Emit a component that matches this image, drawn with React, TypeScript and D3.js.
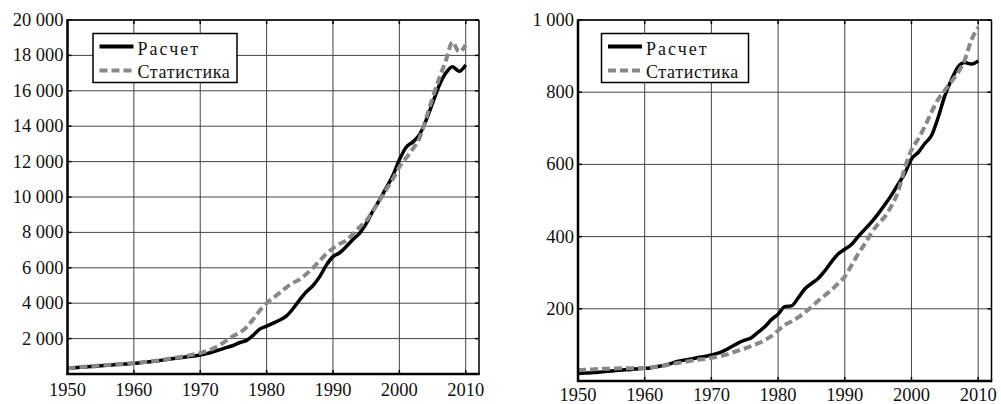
import React from "react";
import * as d3 from "d3";

const years = d3.range(1950, 2011);

const leftCalc = [320, 350, 380, 410, 430, 460, 490, 520, 540, 570, 600, 640, 680, 720, 770, 820, 870, 920, 970, 1020, 1070, 1150, 1260, 1380, 1500, 1620, 1780, 1900, 2200, 2550, 2700, 2870, 3050, 3280, 3700, 4200, 4650, 5000, 5500, 6150, 6630, 6850, 7200, 7600, 7950, 8500, 9200, 9830, 10500, 11200, 12100, 12800, 13100, 13500, 14300, 15300, 16300, 17000, 17360, 17100, 17460];
const leftStat = [330, 360, 390, 420, 450, 480, 510, 540, 570, 600, 620, 650, 690, 730, 780, 840, 900, 960, 1030, 1100, 1180, 1300, 1450, 1650, 1900, 2150, 2350, 2650, 3100, 3600, 4000, 4300, 4600, 4900, 5150, 5350, 5650, 6000, 6400, 6800, 7100, 7350, 7550, 7900, 8300, 8650, 9200, 9800, 10400, 11000, 11700, 12200, 12700, 13300, 14400, 15600, 16700, 17700, 18750, 18200, 18580];
const rightCalc = [21, 22, 23, 24, 26, 28, 30, 31, 32, 34, 35, 37, 40, 44, 49, 55, 58, 61, 65, 68, 72, 77, 85, 95, 105, 113, 120, 135, 150, 170, 185, 206, 208, 230, 255, 270, 284, 305, 330, 352, 365, 378, 400, 420, 440, 463, 488, 515, 545, 575, 615, 633, 658, 680, 730, 790, 835, 870, 882, 878, 887];
const rightStat = [30, 31, 32, 33, 34, 34, 35, 35, 35, 35, 36, 38, 40, 43, 47, 50, 53, 56, 59, 61, 64, 68, 72, 78, 84, 90, 97, 104, 113, 124, 140, 155, 165, 176, 190, 205, 222, 237, 252, 270, 289, 320, 352, 380, 410, 435, 455, 485, 525, 590, 640, 670, 705, 745, 780, 805, 830, 855, 890, 945, 980];

const xTicks = [1950, 1960, 1970, 1980, 1990, 2000, 2010];
const leftYTicks = [2000, 4000, 6000, 8000, 10000, 12000, 14000, 16000, 18000, 20000];
const rightYTicks = [200, 400, 600, 800, 1000];
const legendLabels = ["Расчет", "Статистика"];

const locale = d3.formatLocale({ decimal: ",", thousands: " ", grouping: [3], currency: ["", ""] });
const fmt = locale.format(",d");

const FONT = "Liberation Serif";

type PanelProps = {
  x0: number; x1: number; y0: number; y1: number; ymax: number;
  yTicks: number[]; calc: number[]; stat: number[]; labelY: number;
  legend: { x: number; y: number; w: number; h: number };
};

function Panel({ x0, x1, y0, y1, ymax, yTicks, calc, stat, legend, labelY }: PanelProps) {
  const xs = d3.scaleLinear().domain([1950, 2012]).range([x0, x1]);
  const ys = d3.scaleLinear().domain([0, ymax]).range([y1, y0]);
  const line = d3.line<number>().x((_, i) => xs(years[i])).y((d) => ys(d)).curve(d3.curveMonotoneX);
  return (
    <g>
      {xTicks.map((t) => (
        <line key={"gx" + t} x1={xs(t)} x2={xs(t)} y1={y0} y2={y1} stroke="#444" strokeWidth={1} />
      ))}
      {yTicks.map((t) => (
        <line key={"gy" + t} x1={x0} x2={x1} y1={ys(t)} y2={ys(t)} stroke="#444" strokeWidth={1} />
      ))}
      <path d={line(calc) || ""} fill="none" stroke="#000" strokeWidth={3.5} strokeLinejoin="round" />
      <path d={line(stat) || ""} fill="none" stroke="#888" strokeWidth={4} strokeDasharray="8,4" />
      <line x1={x0} x2={x1} y1={y0} y2={y0} stroke="#000" strokeWidth={1.5} />
      <line x1={x1} x2={x1} y1={y0} y2={y1} stroke="#000" strokeWidth={1.5} />
      <line x1={x0} x2={x0} y1={y0 - 0.75} y2={y1 + 1} stroke="#000" strokeWidth={2.5} />
      <line x1={x0 - 1} x2={x1 + 0.75} y1={y1} y2={y1} stroke="#000" strokeWidth={2.5} />
      {xTicks.map((t) => (
        <g key={"tx" + t}>
          <line x1={xs(t)} x2={xs(t)} y1={y0} y2={y0 + 4} stroke="#000" strokeWidth={1.5} />
          <line x1={xs(t)} x2={xs(t)} y1={y1} y2={y1 - 4} stroke="#000" strokeWidth={1.5} />
        </g>
      ))}
      {yTicks.map((t) => (
        <g key={"ty" + t}>
          <line x1={x0} x2={x0 + 4} y1={ys(t)} y2={ys(t)} stroke="#000" strokeWidth={1.5} />
          <line x1={x1} x2={x1 - 4} y1={ys(t)} y2={ys(t)} stroke="#000" strokeWidth={1.5} />
        </g>
      ))}
      {xTicks.map((t) => (
        <text key={"lx" + t} x={xs(t)} y={labelY} textAnchor="middle" fontFamily={FONT} fontSize={18.5} fill="#111">
          {t}
        </text>
      ))}
      {yTicks.map((t) => (
        <text key={"ly" + t} x={x0 - 4} y={ys(t) + 6} textAnchor="end" fontFamily={FONT} fontSize={18.5} fill="#111">
          {fmt(t)}
        </text>
      ))}
      <rect x={legend.x} y={legend.y} width={legend.w} height={legend.h} fill="#fff" stroke="#000" strokeWidth={1.5} />
      <line x1={legend.x + 6.5} x2={legend.x + 40.5} y1={legend.y + 13} y2={legend.y + 13} stroke="#000" strokeWidth={4} />
      <line x1={legend.x + 6.5} x2={legend.x + 40.5} y1={legend.y + 37} y2={legend.y + 37} stroke="#888" strokeWidth={4} strokeDasharray="8,4" />
      <text x={legend.x + 44.5} y={legend.y + 21.5} fontFamily={FONT} fontSize={18} letterSpacing={2} fill="#111">
        {legendLabels[0]}
      </text>
      <text x={legend.x + 44.5} y={legend.y + 44.5} fontFamily={FONT} fontSize={18} letterSpacing={0.6} fill="#111">
        {legendLabels[1]}
      </text>
    </g>
  );
}

export default function App() {
  return (
    <svg width={1001} height={404} style={{ position: "absolute", left: 0, top: 0, background: "#fff" }}>
      <rect width={1001} height={404} fill="#fff" />
      <Panel x0={67.5} x1={479} y0={20} y1={374} ymax={20000} yTicks={leftYTicks} calc={leftCalc} stat={leftStat}
        labelY={396} legend={{ x: 93, y: 33.5, w: 144, h: 49 }} />
      <Panel x0={578} x1={991.5} y0={20} y1={381} ymax={1000} yTicks={rightYTicks} calc={rightCalc} stat={rightStat}
        labelY={401} legend={{ x: 601.5, y: 33.5, w: 147, h: 49 }} />
    </svg>
  );
}
